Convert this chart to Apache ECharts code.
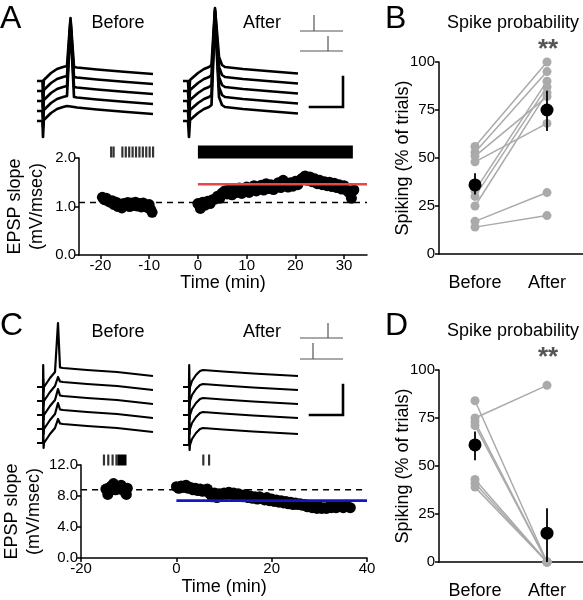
<!DOCTYPE html>
<html><head><meta charset="utf-8">
<script src="https://cdn.jsdelivr.net/npm/echarts@6/dist/echarts.min.js"></script>
<style>html,body{margin:0;padding:0;background:#fff}#c{width:583px;height:600px}</style>
</head><body><div id="c"></div>
<script>
// ---------------- DATA ----------------
// Panel A: EPSP slope (mV/msec) vs time (min)
const aBeforeT = [-19.6,-19.2,-18.8,-18.4,-18.0,-17.6,-17.2,-16.8,-16.4,-16.0,-15.6,-15.2,-14.8,-14.4,-14.0,-13.6,-13.2,-12.8,-12.4,-12.0,-11.6,-11.2,-10.8,-10.4,-10.0,-9.7,-9.4];
const aBeforeV = [1.19,1.14,1.17,1.11,1.09,1.12,1.04,1.09,1.00,1.05,0.97,1.06,1.02,1.08,1.00,1.07,1.02,1.09,1.01,1.06,0.99,1.07,1.01,0.98,1.04,0.94,0.88];
const aAfterT = [0,0.5,1,1.5,2,2.5,3,3.5,4,4.5,5,5.5,6,6.5,7,7.5,8,8.5,9,9.5,10,10.5,11,11.5,12,12.5,13,13.5,14,14.5,15,15.5,16,16.5,17,17.5,18,18.5,19,19.5,20,20.5,21,21.5,22,22.5,23,23.5,24,24.5,25,25.5,26,26.5,27,27.5,28,28.5,29,29.5,30,30.5,31,31.5,32];
const aAfterV = [1.06,0.96,1.09,1.03,1.11,1.06,1.14,1.15,1.21,1.17,1.28,1.32,1.26,1.36,1.24,1.34,1.29,1.38,1.27,1.36,1.40,1.29,1.37,1.43,1.32,1.38,1.44,1.34,1.47,1.37,1.45,1.35,1.43,1.49,1.39,1.54,1.44,1.40,1.49,1.42,1.52,1.45,1.55,1.59,1.63,1.54,1.61,1.51,1.57,1.47,1.54,1.45,1.51,1.43,1.50,1.41,1.48,1.39,1.45,1.36,1.43,1.34,1.29,1.17,1.34];
const aBaseline = 1.08;
const aAfterMean = 1.46;
const aSpikesBefore = [-17.8,-17.3,-15.5,-14.8,-14.1,-13.4,-12.7,-12.0,-11.3,-10.6,-9.9,-9.2];
const aSpikesAfterSpan = [0, 31.8];
const aXTicks = [-20,-10,0,10,20,30];

// Panel C
const cBeforeT = [-14.8,-14.4,-14.0,-13.6,-13.2,-12.8,-12.4,-12.0,-11.6,-11.2,-10.8,-10.5,-10.3];
const cBeforeV = [8.9,8.2,9.1,9.3,9.6,8.8,9.2,8.9,9.4,9.0,8.5,8.2,9.0];
const cAfterT = [0,0.5,1,1.5,2,2.5,3,3.5,4,4.5,5,5.5,6,6.5,7,7.5,8,8.5,9,9.5,10,10.5,11,11.5,12,12.5,13,13.5,14,14.5,15,15.5,16,16.5,17,17.5,18,18.5,19,19.5,20,20.5,21,21.5,22,22.5,23,23.5,24,24.5,25,25.5,26,26.5,27,27.5,28,28.5,29,29.5,30,30.5,31,31.5,32,32.5,33,33.5,34,34.5,35,35.5,36,36.5];
const cAfterV = [9.2,9.0,9.3,9.1,9.4,9.0,9.1,8.8,9.0,8.7,8.9,8.6,8.8,8.9,8.3,7.9,8.4,7.8,8.3,8.1,8.4,8.2,8.5,8.2,8.4,8.0,8.3,8.1,7.9,8.2,7.8,8.0,7.7,7.9,7.6,7.9,7.7,7.5,7.8,7.4,7.6,7.3,7.5,7.2,7.4,7.1,7.3,7.0,7.2,6.9,7.1,6.9,7.0,6.8,6.9,6.6,6.8,6.5,6.7,6.4,6.6,6.4,6.5,6.4,6.6,6.5,6.7,6.5,6.6,6.7,6.5,6.8,6.6,6.5];
const cBaseline = 8.8;
const cAfterMean = 7.4;
const cSpikesBefore = [-14.8,-13.9,-13.0,-12.2];
const cSpikesBeforeSpan = [-12.0, -10.1];
const cSpikesAfter = [5.9, 7.1];

// Panel B: spike probability (% of trials)
const bCategories = ['Before','After'];
const bBefore = [56,53,51,48,33,30,25,17,14];
const bAfter  = [100,95,82,68,90,87,84,32,20];
const bMean = [36,75];
const bErrLow = [31,64];
const bErrHigh = [42,85];

// Panel D
const dBefore = [84,75,73,71,43,41,39];
const dAfter  = [0,92,0,0,0,0,0];
const dMean = [61,15];
const dErrLow = [53,0];
const dErrHigh = [68,28];

// Example sweeps (time units, voltage units relative to sweep baseline; 'P' = spike peak)
const tplABeforeT = [0,5.5,6,6.8,8,14,20,26,30,33.5,37,40,60,90,116];
const tplABeforeV = [0,0,-16,1,3,8,12,14,15,'P',14,13.5,11.5,9,7];
const baseABefore = [59,49,39,29,19];
const peakABefore = [63,71,79,87,null];

const tplAAfterT = [0,5,6,7,9,15,21,26,28.5,32,36,39,42,60,90,115];
const tplAAfterV = [0,0,-16,1,3,8,12,14,16,'P',24,16,14,12,9.5,7.5];
const baseAAfter = [59,49,39,29,19];
const peakAAfter = [73,81,89,97,104];

const tplCBeforeT = [0,6,6.2,6.6,7,9,13,18,20,21,23,26,50,80,116];
const tplCBeforeV = [0,0,22,-5,0,3,9,15,17,'P',19.5,19,17,15,11];
const baseCBefore = [63,49,35,21,7];
const peakCBefore = [64,24,26,26,24];

const tplCAfterT = [0,6,6.2,6.6,7,9,13,17,20,40,70,115];
const tplCAfterV = [0,0,22,-5,0,6,12,16,17,15.5,13.5,11];
const baseCAfter = [63,49,35,21,5];

// scale bars and stimulus schematics (in sweep units)
const scaleBarA = [[127,33],[160,33],[160,63]];
const stimA = [[[117,109],[160,109]],[[131,109],[131,125]],[[117,89],[160,89]],[[145,89],[145,104]]];
const scaleBarC = [[127,35],[160,35],[160,65]];
const stimC = [[[117,112],[160,112]],[[145,112],[145,127]],[[117,91],[160,91]],[[130,91],[130,107]]];

// ---------------- CHART ----------------
const FONT = "'Liberation Sans', Arial, Helvetica, sans-serif";
const chart = echarts.init(document.getElementById('c'), null, {renderer:'canvas'});

function sweep(T, V, base, peak) {
  const out = [];
  for (let i = 0; i < T.length; i++) {
    if (V[i] === 'P') { if (peak == null) continue; out.push([T[i], base + peak]); }
    else out.push([T[i], base + V[i]]);
  }
  return out;
}

const grids = [
  {left:37, top:0, width:125, height:140},
  {left:183, top:0, width:170, height:140},
  {left:79, top:144, width:288, height:16},
  {left:79, top:158, width:288, height:97},
  {left:439, top:62, width:144, height:192},
  {left:37, top:300, width:125, height:150},
  {left:183, top:300, width:170, height:150},
  {left:79, top:452, width:288, height:16},
  {left:79, top:465, width:288, height:93},
  {left:439, top:370, width:144, height:192}
];

const axLine = {show:true, onZero:false, lineStyle:{color:'#000', width:1.5}};
const axTick = {show:true, length:4, lineStyle:{color:'#000', width:1.5}};
const hidden = (g, min, max) => ({type:'value', gridIndex:g, min, max, show:false});

const xAxes = [
  hidden(0,0,125), hidden(1,0,170), hidden(2,-24.4,34.7),
  {type:'value', gridIndex:3, min:-24.4, max:34.7, axisLine:axLine,
   axisTick:Object.assign({customValues:aXTicks}, axTick),
   axisLabel:{customValues:aXTicks, fontSize:15, fontFamily:FONT, color:'#000', margin:3},
   splitLine:{show:false}, name:'Time (min)', nameLocation:'middle', nameGap:19,
   nameTextStyle:{fontSize:18, fontFamily:FONT, color:'#000'}},
  {type:'category', gridIndex:4, data:bCategories, axisLine:axLine, axisTick:{show:false},
   axisLabel:{fontSize:18, fontFamily:FONT, color:'#000', margin:20}},
  hidden(5,0,125), hidden(6,0,170), hidden(7,-20,40),
  {type:'value', gridIndex:8, min:-20, max:40, interval:20, axisLine:axLine, axisTick:axTick,
   axisLabel:{fontSize:15, fontFamily:FONT, color:'#000', margin:3},
   splitLine:{show:false}, name:'Time (min)', nameLocation:'middle', nameGap:20,
   nameTextStyle:{fontSize:18, fontFamily:FONT, color:'#000'}},
  {type:'category', gridIndex:9, data:bCategories, axisLine:axLine, axisTick:{show:false},
   axisLabel:{fontSize:18, fontFamily:FONT, color:'#000', margin:20}}
];

const yName = {fontSize:18, fontFamily:FONT, color:'#000', lineHeight:22};
const yAxes = [
  hidden(0,0,140), hidden(1,0,140), hidden(2,0,1),
  {type:'value', gridIndex:3, min:0, max:2, interval:1, axisLine:axLine, axisTick:axTick,
   axisLabel:{fontSize:15, fontFamily:FONT, color:'#000', margin:3, formatter:v=>v.toFixed(1)},
   splitLine:{show:false}, name:'EPSP slope\n(mV/msec)', nameLocation:'middle', nameGap:31, nameTextStyle:yName},
  {type:'value', gridIndex:4, min:0, max:100, interval:25, axisLine:axLine, axisTick:axTick,
   axisLabel:{fontSize:15, fontFamily:FONT, color:'#000', margin:4},
   splitLine:{show:false}, name:'Spiking (% of trials)', nameLocation:'middle', nameGap:25,
   nameMoveOverlap:false, nameTextStyle:yName},
  hidden(5,0,150), hidden(6,0,150), hidden(7,0,1),
  {type:'value', gridIndex:8, min:0, max:12, interval:4, axisLine:axLine, axisTick:axTick,
   axisLabel:{fontSize:15, fontFamily:FONT, color:'#000', margin:3, formatter:v=>v.toFixed(1)},
   splitLine:{show:false}, name:'EPSP slope\n(mV/msec)', nameLocation:'middle', nameGap:31, nameTextStyle:yName},
  {type:'value', gridIndex:9, min:0, max:100, interval:25, axisLine:axLine, axisTick:axTick,
   axisLabel:{fontSize:15, fontFamily:FONT, color:'#000', margin:4},
   splitLine:{show:false}, name:'Spiking (% of trials)', nameLocation:'middle', nameGap:25,
   nameMoveOverlap:false, nameTextStyle:yName}
];

const series = [];
const line = (ax, data, color, width, extra={}) => series.push(Object.assign({
  type:'line', xAxisIndex:ax, yAxisIndex:ax, data, symbol:'none', silent:true, animation:false,
  lineStyle:{color, width, cap:'butt', join:'round'}, z:2}, extra));
const dots = (ax, data, color, size, z) => series.push({
  type:'scatter', xAxisIndex:ax, yAxisIndex:ax, data, symbol:'circle', symbolSize:size,
  itemStyle:{color, opacity:1}, silent:true, animation:false, z});

// sweeps
baseABefore.forEach((b,i)=>line(0, sweep(tplABeforeT, tplABeforeV, b, peakABefore[i]), '#000', 2.7));
baseAAfter.forEach((b,i)=>line(1, sweep(tplAAfterT, tplAAfterV, b, peakAAfter[i]), '#000', 2.7));
baseCBefore.forEach((b,i)=>line(5, sweep(tplCBeforeT, tplCBeforeV, b, peakCBefore[i]), '#000', 2.2));
baseCAfter.forEach((b)=>line(6, sweep(tplCAfterT, tplCAfterV, b, null), '#000', 2.2));
line(1, scaleBarA, '#000', 2.6, {lineStyle:{color:'#000', width:2.6, cap:'square', join:'miter'}});
stimA.forEach(s=>line(1, s, '#555', 1.2));
line(6, scaleBarC, '#000', 2.6, {lineStyle:{color:'#000', width:2.6, cap:'square', join:'miter'}});
stimC.forEach(s=>line(6, s, '#555', 1.2));

// rasters
series.push({type:'scatter', xAxisIndex:2, yAxisIndex:2, data:aSpikesBefore.map(t=>[t,0.5]),
  symbol:'rect', symbolSize:[2.2,11], itemStyle:{color:'#000'}, silent:true, animation:false});
line(2, aSpikesAfterSpan.map(t=>[t,0.5]), '#000', 13);
series.push({type:'scatter', xAxisIndex:7, yAxisIndex:7, data:cSpikesBefore.concat(cSpikesAfter).map(t=>[t,0.5]),
  symbol:'rect', symbolSize:[2.2,11], itemStyle:{color:'#000'}, silent:true, animation:false});
line(7, cSpikesBeforeSpan.map(t=>[t,0.5]), '#000', 11);

// A scatter
line(3, [[-24.4,aBaseline],[34.7,aBaseline]], '#000', 1.5, {lineStyle:{color:'#000', width:1.5, type:[6,5]}, z:1});
dots(3, aBeforeT.map((t,i)=>[t,aBeforeV[i]]), '#000', 11, 3);
dots(3, aAfterT.map((t,i)=>[t,aAfterV[i]]), '#000', 11, 3);
line(3, [[0,aAfterMean],[34.7,aAfterMean]], '#e8464b', 2.6, {z:5});

// C scatter
line(8, [[-20,cBaseline],[40,cBaseline]], '#000', 1.5, {lineStyle:{color:'#000', width:1.5, type:[6,5]}, z:1});
dots(8, cBeforeT.map((t,i)=>[t,cBeforeV[i]]), '#000', 11, 3);
dots(8, cAfterT.map((t,i)=>[t,cAfterV[i]]), '#000', 11, 3);
line(8, [[0,cAfterMean],[40,cAfterMean]], '#1515c8', 2.6, {z:5});

// B and D paired plots
function paired(ax, before, after, mean, lo, hi) {
  before.forEach((v,i)=>line(ax, [[0,v],[1,after[i]]], '#aaaaaa', 1.5, {z:2}));
  dots(ax, before.map(v=>[0,v]).concat(after.map(v=>[1,v])), '#aaaaaa', 9, 3);
  [0,1].forEach(k=>line(ax, [[k,lo[k]],[k,hi[k]]], '#000', 1.8, {z:4}));
  dots(ax, mean.map((v,k)=>[k,v]), '#000', 13, 5);
}
paired(4, bBefore, bAfter, bMean, bErrLow, bErrHigh);
paired(9, dBefore, dAfter, dMean, dErrLow, dErrHigh);

const txt = (text, x, y, size, opts={}) => ({type:'text', x, y, silent:true, z:100,
  style:Object.assign({text, fontSize:size, fontFamily:FONT, fill:'#000',
    align:'center', verticalAlign:'middle', textAlign:'center', textVerticalAlign:'middle'}, opts)});

const graphic = [
  txt('A', 0, 19, 32, {align:'left', textAlign:'left'}),
  txt('B', 385, 19, 32, {align:'left', textAlign:'left'}),
  txt('C', 0, 326, 32, {align:'left', textAlign:'left'}),
  txt('D', 385, 326, 32, {align:'left', textAlign:'left'}),
  txt('Before', 118, 23, 18), txt('After', 262, 23, 18),
  txt('Before', 118, 332, 18), txt('After', 262, 332, 18),
  txt('Spike probability', 513, 23, 18), txt('Spike probability', 513, 331, 18),
  txt('**', 548, 50, 26, {fill:'#555', fontWeight:'bold'}),
  txt('**', 548, 358, 26, {fill:'#555', fontWeight:'bold'})
];

chart.setOption({
  animation:false, backgroundColor:'#fff',
  grid:grids, xAxis:xAxes, yAxis:yAxes, series, graphic
});
</script></body></html>
